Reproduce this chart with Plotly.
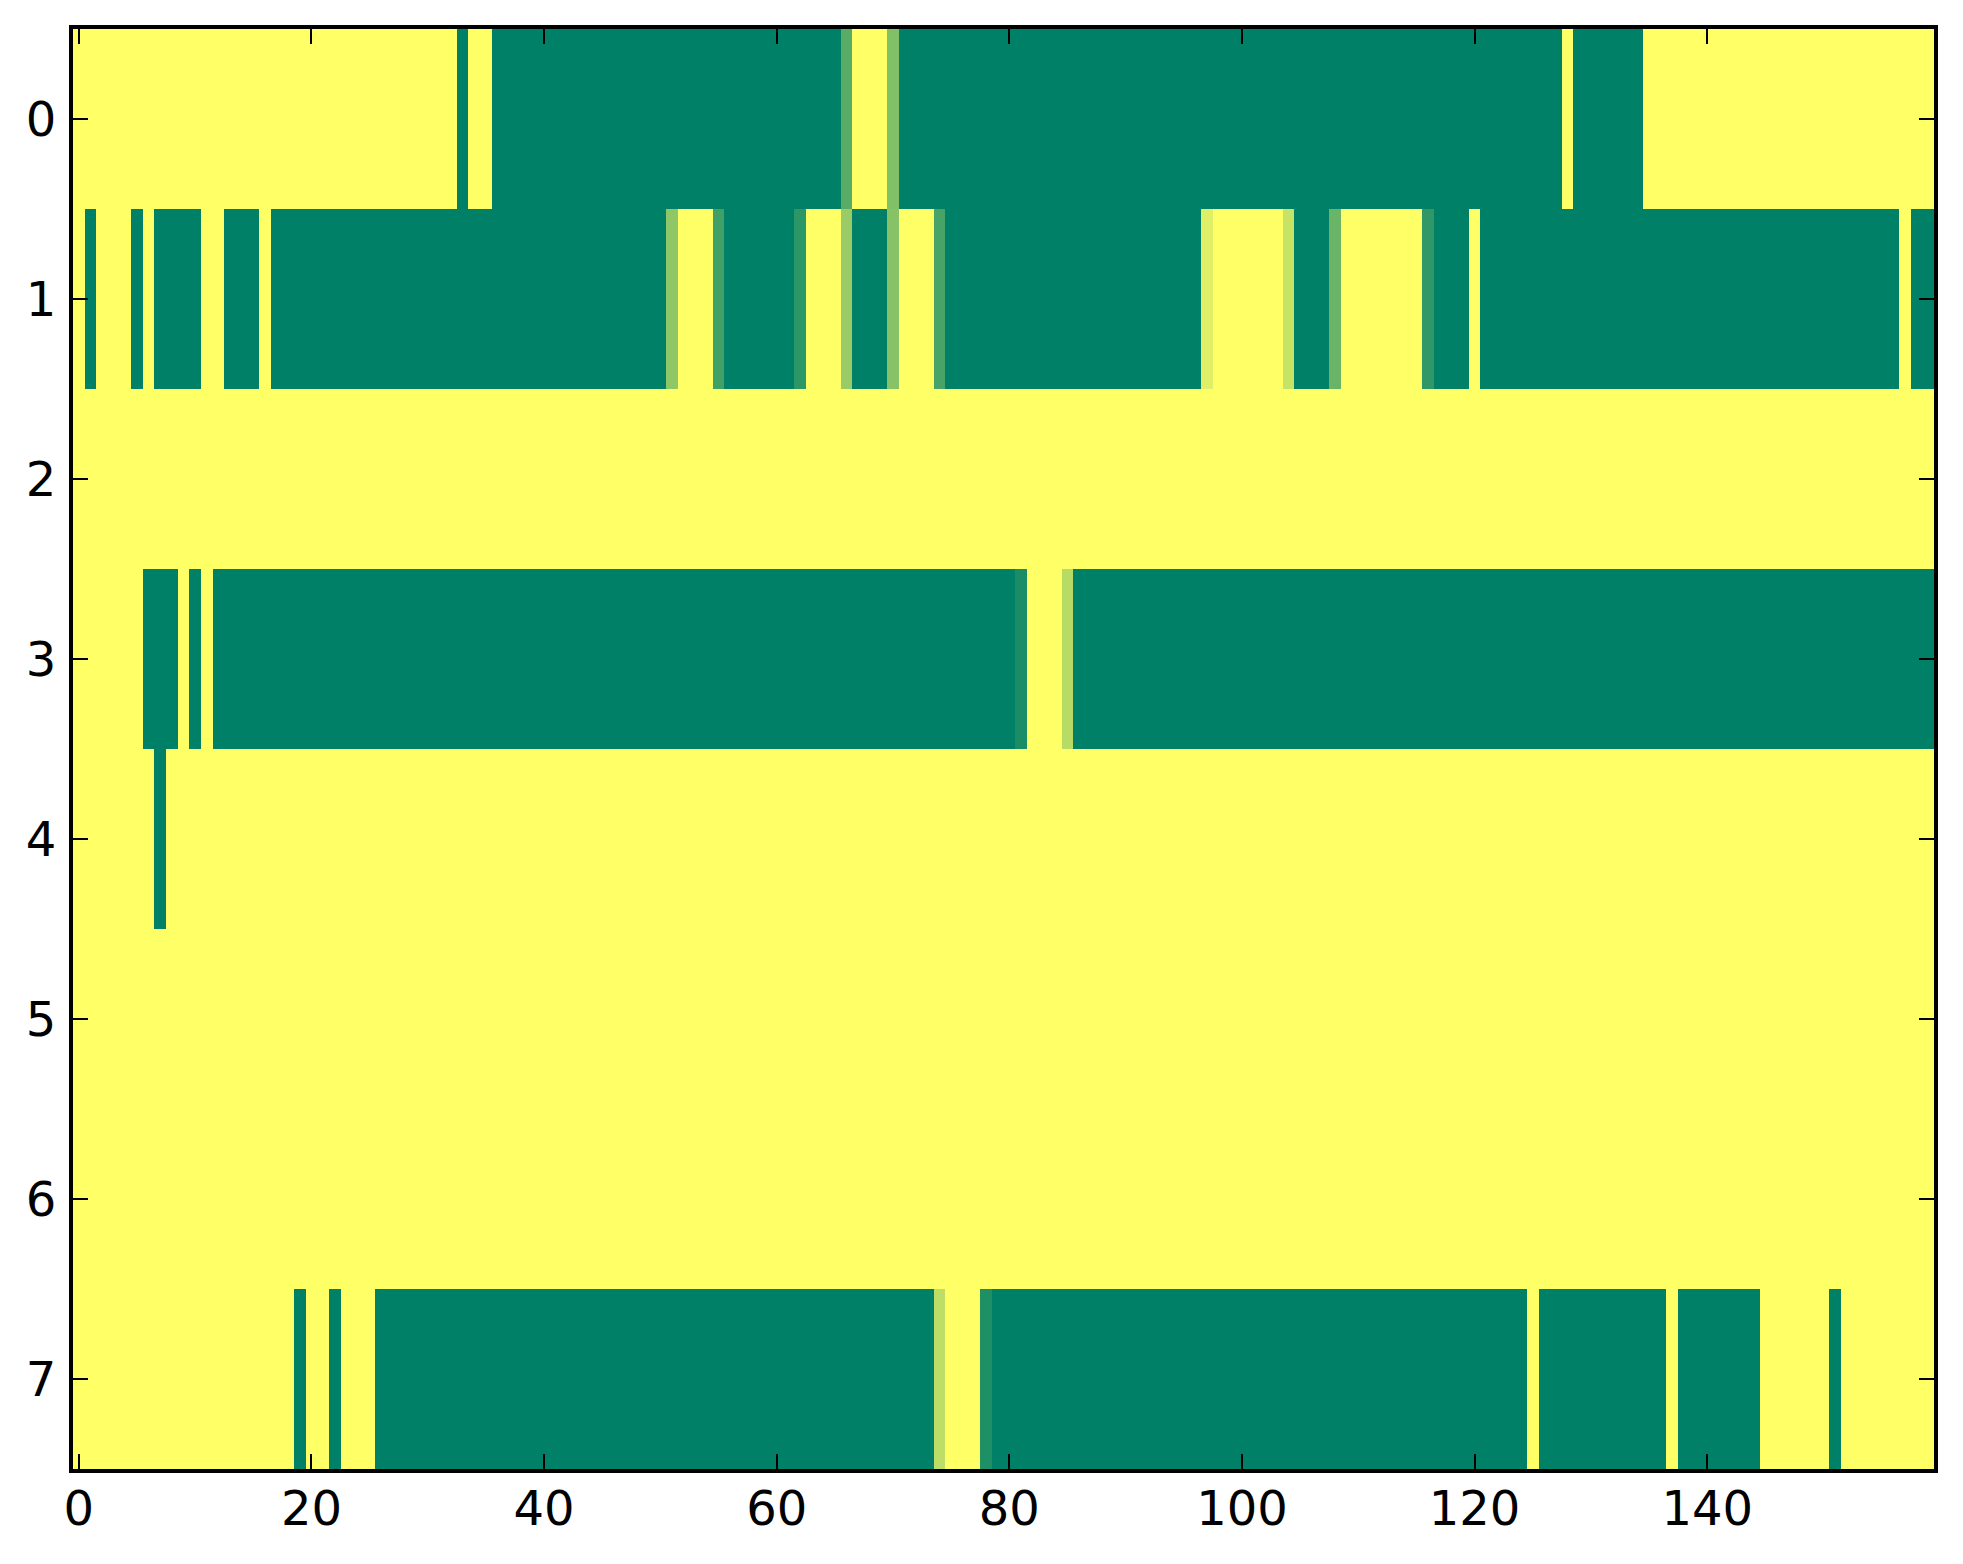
import plotly.graph_objects as go

# column and row indices of the grid
cols = list(range(160))
rows = list(range(8))

# cell values (0 = green, 1 = yellow), 20 per line
row0 = [1, 1, 1, 1, 1, 1, 1, 1, 1, 1, 1, 1, 1, 1, 1, 1, 1, 1, 1, 1,
        1, 1, 1, 1, 1, 1, 1, 1, 1, 1, 1, 1, 1, 0, 1, 1, 0, 0, 0, 0,
        0, 0, 0, 0, 0, 0, 0, 0, 0, 0, 0, 0, 0, 0, 0, 0, 0, 0, 0, 0,
        0, 0, 0, 0, 0, 0, .35, 1, 1, 1, .5, 0, 0, 0, 0, 0, 0, 0, 0, 0,
        0, 0, 0, 0, 0, 0, 0, 0, 0, 0, 0, 0, 0, 0, 0, 0, 0, 0, 0, 0,
        0, 0, 0, 0, 0, 0, 0, 0, 0, 0, 0, 0, 0, 0, 0, 0, 0, 0, 0, 0,
        0, 0, 0, 0, 0, 0, 0, 0, 1, 0, 0, 0, 0, 0, 0, 1, 1, 1, 1, 1,
        1, 1, 1, 1, 1, 1, 1, 1, 1, 1, 1, 1, 1, 1, 1, 1, 1, 1, 1, 1]
row1 = [1, 0, 1, 1, 1, 0, 1, 0, 0, 0, 0, 1, 1, 0, 0, 0, 1, 0, 0, 0,
        0, 0, 0, 0, 0, 0, 0, 0, 0, 0, 0, 0, 0, 0, 0, 0, 0, 0, 0, 0,
        0, 0, 0, 0, 0, 0, 0, 0, 0, 0, 0, .56, 1, 1, 1, .25, 0, 0, 0, 0,
        0, 0, .17, 1, 1, 1, .6, 0, 0, 0, .53, 1, 1, 1, .28, 0, 0, 0, 0, 0,
        0, 0, 0, 0, 0, 0, 0, 0, 0, 0, 0, 0, 0, 0, 0, 0, 0, .88, 1, 1,
        1, 1, 1, 1, .78, 0, 0, 0, .41, 1, 1, 1, 1, 1, 1, 1, .19, 0, 0, 0,
        1, 0, 0, 0, 0, 0, 0, 0, 0, 0, 0, 0, 0, 0, 0, 0, 0, 0, 0, 0,
        0, 0, 0, 0, 0, 0, 0, 0, 0, 0, 0, 0, 0, 0, 0, 0, 0, 1, 0, 0]
row2 = [1, 1, 1, 1, 1, 1, 1, 1, 1, 1, 1, 1, 1, 1, 1, 1, 1, 1, 1, 1,
        1, 1, 1, 1, 1, 1, 1, 1, 1, 1, 1, 1, 1, 1, 1, 1, 1, 1, 1, 1,
        1, 1, 1, 1, 1, 1, 1, 1, 1, 1, 1, 1, 1, 1, 1, 1, 1, 1, 1, 1,
        1, 1, 1, 1, 1, 1, 1, 1, 1, 1, 1, 1, 1, 1, 1, 1, 1, 1, 1, 1,
        1, 1, 1, 1, 1, 1, 1, 1, 1, 1, 1, 1, 1, 1, 1, 1, 1, 1, 1, 1,
        1, 1, 1, 1, 1, 1, 1, 1, 1, 1, 1, 1, 1, 1, 1, 1, 1, 1, 1, 1,
        1, 1, 1, 1, 1, 1, 1, 1, 1, 1, 1, 1, 1, 1, 1, 1, 1, 1, 1, 1,
        1, 1, 1, 1, 1, 1, 1, 1, 1, 1, 1, 1, 1, 1, 1, 1, 1, 1, 1, 1]
row3 = [1, 1, 1, 1, 1, 1, 0, 0, 0, 1, 0, 1, 0, 0, 0, 0, 0, 0, 0, 0,
        0, 0, 0, 0, 0, 0, 0, 0, 0, 0, 0, 0, 0, 0, 0, 0, 0, 0, 0, 0,
        0, 0, 0, 0, 0, 0, 0, 0, 0, 0, 0, 0, 0, 0, 0, 0, 0, 0, 0, 0,
        0, 0, 0, 0, 0, 0, 0, 0, 0, 0, 0, 0, 0, 0, 0, 0, 0, 0, 0, 0,
        0, .1, 1, 1, 1, .72, 0, 0, 0, 0, 0, 0, 0, 0, 0, 0, 0, 0, 0, 0,
        0, 0, 0, 0, 0, 0, 0, 0, 0, 0, 0, 0, 0, 0, 0, 0, 0, 0, 0, 0,
        0, 0, 0, 0, 0, 0, 0, 0, 0, 0, 0, 0, 0, 0, 0, 0, 0, 0, 0, 0,
        0, 0, 0, 0, 0, 0, 0, 0, 0, 0, 0, 0, 0, 0, 0, 0, 0, 0, 0, 0]
row4 = [1, 1, 1, 1, 1, 1, 1, 0, 1, 1, 1, 1, 1, 1, 1, 1, 1, 1, 1, 1,
        1, 1, 1, 1, 1, 1, 1, 1, 1, 1, 1, 1, 1, 1, 1, 1, 1, 1, 1, 1,
        1, 1, 1, 1, 1, 1, 1, 1, 1, 1, 1, 1, 1, 1, 1, 1, 1, 1, 1, 1,
        1, 1, 1, 1, 1, 1, 1, 1, 1, 1, 1, 1, 1, 1, 1, 1, 1, 1, 1, 1,
        1, 1, 1, 1, 1, 1, 1, 1, 1, 1, 1, 1, 1, 1, 1, 1, 1, 1, 1, 1,
        1, 1, 1, 1, 1, 1, 1, 1, 1, 1, 1, 1, 1, 1, 1, 1, 1, 1, 1, 1,
        1, 1, 1, 1, 1, 1, 1, 1, 1, 1, 1, 1, 1, 1, 1, 1, 1, 1, 1, 1,
        1, 1, 1, 1, 1, 1, 1, 1, 1, 1, 1, 1, 1, 1, 1, 1, 1, 1, 1, 1]
row5 = list(row2)
row6 = list(row2)
row7 = [1, 1, 1, 1, 1, 1, 1, 1, 1, 1, 1, 1, 1, 1, 1, 1, 1, 1, 1, 0,
        1, 1, 0, 1, 1, 1, 0, 0, 0, 0, 0, 0, 0, 0, 0, 0, 0, 0, 0, 0,
        0, 0, 0, 0, 0, 0, 0, 0, 0, 0, 0, 0, 0, 0, 0, 0, 0, 0, 0, 0,
        0, 0, 0, 0, 0, 0, 0, 0, 0, 0, 0, 0, 0, 0, .74, 1, 1, 1, .12, 0,
        0, 0, 0, 0, 0, 0, 0, 0, 0, 0, 0, 0, 0, 0, 0, 0, 0, 0, 0, 0,
        0, 0, 0, 0, 0, 0, 0, 0, 0, 0, 0, 0, 0, 0, 0, 0, 0, 0, 0, 0,
        0, 0, 0, 0, 0, 1, 0, 0, 0, 0, 0, 0, 0, 0, 0, 0, 0, 1, 0, 0,
        0, 0, 0, 0, 0, 1, 1, 1, 1, 1, 1, 0, 1, 1, 1, 1, 1, 1, 1, 1]

z = [row0, row1, row2, row3, row4, row5, row6, row7]

xticks = [0, 20, 40, 60, 80, 100, 120, 140]
yticks = [0, 1, 2, 3, 4, 5, 6, 7]

# matplotlib "summer" map is linear between these two ends
summer = [[0, "rgb(0,128,102)"], [1, "rgb(255,255,102)"]]

fig = go.Figure(go.Heatmap(z=z, x=cols, y=rows, colorscale=summer,
                           zmin=0, zmax=1, showscale=False))

axis_style = dict(showline=True, linecolor="black", linewidth=4, mirror="ticks",
                  ticks="inside", ticklen=15, tickwidth=2, tickcolor="black",
                  showgrid=False, zeroline=False,
                  tickfont=dict(family="DejaVu Sans", size=48, color="black"))

fig.update_layout(
    width=1963, height=1564,
    margin=dict(l=73, r=29, t=29, b=95),
    paper_bgcolor="white", plot_bgcolor="white",
    xaxis=dict(range=[-0.5, 159.5], tickvals=xticks, ticklabelstandoff=-6, **axis_style),
    yaxis=dict(range=[7.5, -0.5], tickvals=yticks, ticklabelstandoff=3, **axis_style),
)

# drop the browser's default 8px body margin so the figure fills the window
fig.write_html("out.html", config={"displayModeBar": False},
               post_script="document.body.style.margin = '0';")
